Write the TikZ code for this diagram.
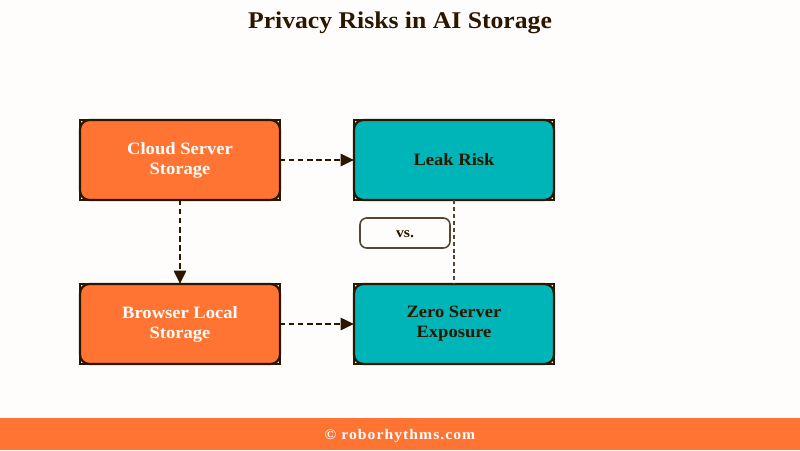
\documentclass[tikz,border=0pt]{standalone}
\usepackage{fontspec}
\setmainfont[FakeStretch=1.07]{Liberation Serif}
\usetikzlibrary{positioning,arrows.meta}
\definecolor{pageback}{HTML}{FFFDFB}
\definecolor{inkdark}{HTML}{2B1600}
\definecolor{riskorange}{HTML}{FF7433}
\definecolor{safeteal}{HTML}{00B5B8}
\tikzset{
  storebox/.style={rectangle,rounded corners=7pt,draw=inkdark,line width=1.7pt,minimum width=150pt,minimum height=60pt,inner sep=0pt,outer sep=0pt,align=center,font=\fontsize{13}{15}\selectfont\bfseries},
  orangebox/.style={storebox,fill=riskorange,text=pageback},
  tealbox/.style={storebox,fill=safeteal,text=inkdark},
  riskarrow/.style={draw=inkdark,line width=2pt,dash pattern=on 4pt off 2.8pt,-{Triangle[length=10pt,width=9pt]}},
}
\begin{document}
\begin{tikzpicture}[x=0.75pt,y=-0.75pt]
	\useasboundingbox (0,0) rectangle (800,450);
	\fill[pageback] (0,0) rectangle (800,450);
	\node[text=inkdark,font=\fontsize{18}{20}\selectfont\bfseries] (title) at (400,23) {Privacy Risks in AI Storage};
	\node[orangebox] (cloud) at (180,160) {Cloud Server\\Storage};
	\node[tealbox] (leak) at (454,160) {Leak Risk};
	\node[orangebox] (browser) at (180,324) {Browser Local\\Storage};
	\node[tealbox] (zero) at (454,324) {Zero Server\\Exposure};
	% square frame behind the round corners
	\foreach \boxname in {cloud,leak,browser,zero}
		\draw[inkdark,line width=0.9pt] (\boxname.south west) rectangle (\boxname.north east);
	\draw[riskarrow] (cloud) -- (leak);
	\draw[riskarrow] (cloud) -- (browser);
	\draw[riskarrow] (browser) -- (zero);
	\draw[inkdark!80,line width=1pt,dash pattern=on 3pt off 2.2pt] (leak) -- (zero);
	\node[rectangle,rounded corners=5pt,draw=inkdark!80,line width=1.2pt,fill=pageback,minimum width=67.5pt,minimum height=22.5pt,inner sep=0pt,text=inkdark,font=\fontsize{11}{13}\selectfont\bfseries] (versus) at (405,233) {\raisebox{-3.6pt}[0pt][0pt]{vs.}};
	\fill[riskorange] (0,418) rectangle (800,450);
	\node[text=pageback,font=\fontsize{11}{13}\selectfont\bfseries\addfontfeature{LetterSpace=7}] (credit) at (400,436) {© roborhythms.com};
\end{tikzpicture}
\end{document}
